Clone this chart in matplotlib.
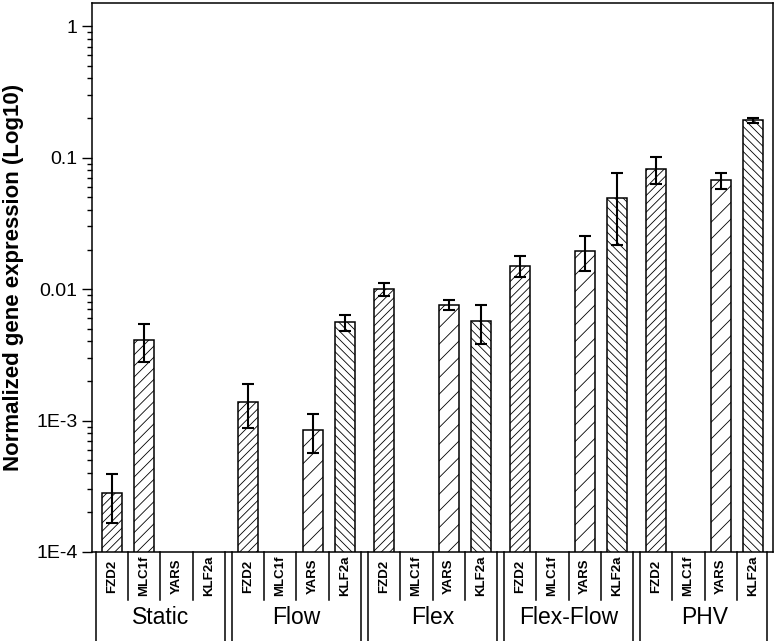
import numpy as np
import matplotlib
matplotlib.use('Agg')
import matplotlib.pyplot as plt
from matplotlib.ticker import LogLocator, FixedFormatter, FixedLocator, NullFormatter
import matplotlib.transforms as mtransforms

plt.rcParams['font.family'] = ['Liberation Sans', 'DejaVu Sans']
plt.rcParams['hatch.linewidth'] = 0.6

groups = ['Static', 'Flow', 'Flex', 'Flex-Flow', 'PHV']
genes = ['FZD2', 'MLC1f', 'YARS', 'KLF2a']
hatches = ['////', '///', '//', '\\\\\\\\']

# mean expression per group (nan = not detected)
fzd2 = [2.8e-4, 1.39e-3, 0.0100, 0.0150, 0.082]
mlc1f = [4.1e-3, np.nan, np.nan, np.nan, np.nan]
yars = [np.nan, 8.5e-4, 7.6e-3, 0.0195, 0.0675]
klf2a = [np.nan, 5.6e-3, 5.7e-3, 0.049, 0.192]

fzd2_err = [1.13e-4, 5.1e-4, 1.1e-3, 2.7e-3, 0.0185]
mlc1f_err = [1.3e-3, np.nan, np.nan, np.nan, np.nan]
yars_err = [np.nan, 2.8e-4, 0.65e-3, 5.8e-3, 0.0093]
klf2a_err = [np.nan, 0.8e-3, 1.9e-3, 0.0275, 0.009]

values = [fzd2, mlc1f, yars, klf2a]
errors = [fzd2_err, mlc1f_err, yars_err, klf2a_err]

group_step = 4.2
bar_w = 0.62

fig = plt.figure(figsize=(7.77, 6.41), dpi=100)
ax = fig.add_axes([92/777, 1-552/641, (773-92)/777, (552-3)/641])

for j, gene in enumerate(genes):
    x = np.arange(len(groups))*group_step + j
    v = np.array(values[j], dtype=float)
    er = np.array(errors[j], dtype=float)
    ok = ~np.isnan(v)
    ax.bar(x[ok], v[ok], width=bar_w, bottom=0, facecolor='white', edgecolor='black',
           linewidth=1.1, hatch=hatches[j], zorder=2)
    ax.errorbar(x[ok], v[ok], yerr=er[ok], fmt='none', ecolor='black', elinewidth=1.5,
                capsize=4.5, capthick=1.5, zorder=3)

ax.set_yscale('log')
ax.set_ylim(1e-4, 1.5)
ax.set_xlim(-0.61, 4*group_step + 3.61)
ax.set_xticks([])

ax.yaxis.set_major_locator(FixedLocator([1e-4, 1e-3, 1e-2, 1e-1, 1]))
ax.yaxis.set_major_formatter(FixedFormatter(['1E-4', '1E-3', '0.01', '0.1', '1']))
ax.yaxis.set_minor_locator(LogLocator(base=10, subs=np.arange(2, 10)))
ax.yaxis.set_minor_formatter(NullFormatter())
ax.tick_params(axis='y', which='major', direction='out', length=7.5, width=1.0, labelsize=14, pad=3)
ax.tick_params(axis='y', which='minor', direction='out', length=3.8, width=1.0)
for s in ax.spines.values():
    s.set_linewidth(1.1)

ax.set_ylabel('Normalized gene expression (Log10)', fontsize=16, fontweight='bold')
ax.yaxis.set_label_coords(-0.1, 0.5)

# category table below the axis
trans = mtransforms.blended_transform_factory(ax.transData, ax.transAxes)
sep_bottom = -48/549
fig_bottom = -89/549
for g, name in enumerate(groups):
    x0 = g*group_step
    left = x0 - 0.5
    right = x0 + 3.5 if g < len(groups)-1 else x0 + 3.42
    ax.plot([left, left], [0, fig_bottom], transform=trans, color='black', lw=1.1, clip_on=False)
    ax.plot([right, right], [0, fig_bottom], transform=trans, color='black', lw=1.1, clip_on=False)
    for j in range(1, 4):
        ax.plot([x0 + j - 0.5]*2, [0, sep_bottom], transform=trans, color='black', lw=1.1, clip_on=False)
    for j, gene in enumerate(genes):
        ax.text(x0 + j, -24/549, gene, transform=trans, rotation=90, ha='center', va='center',
                fontsize=9.5, fontweight='bold')
    ax.text(x0 + 1.5, -0.12, name, transform=trans, ha='center', va='center', fontsize=16.5)

fig.savefig('out.png', dpi=100)
